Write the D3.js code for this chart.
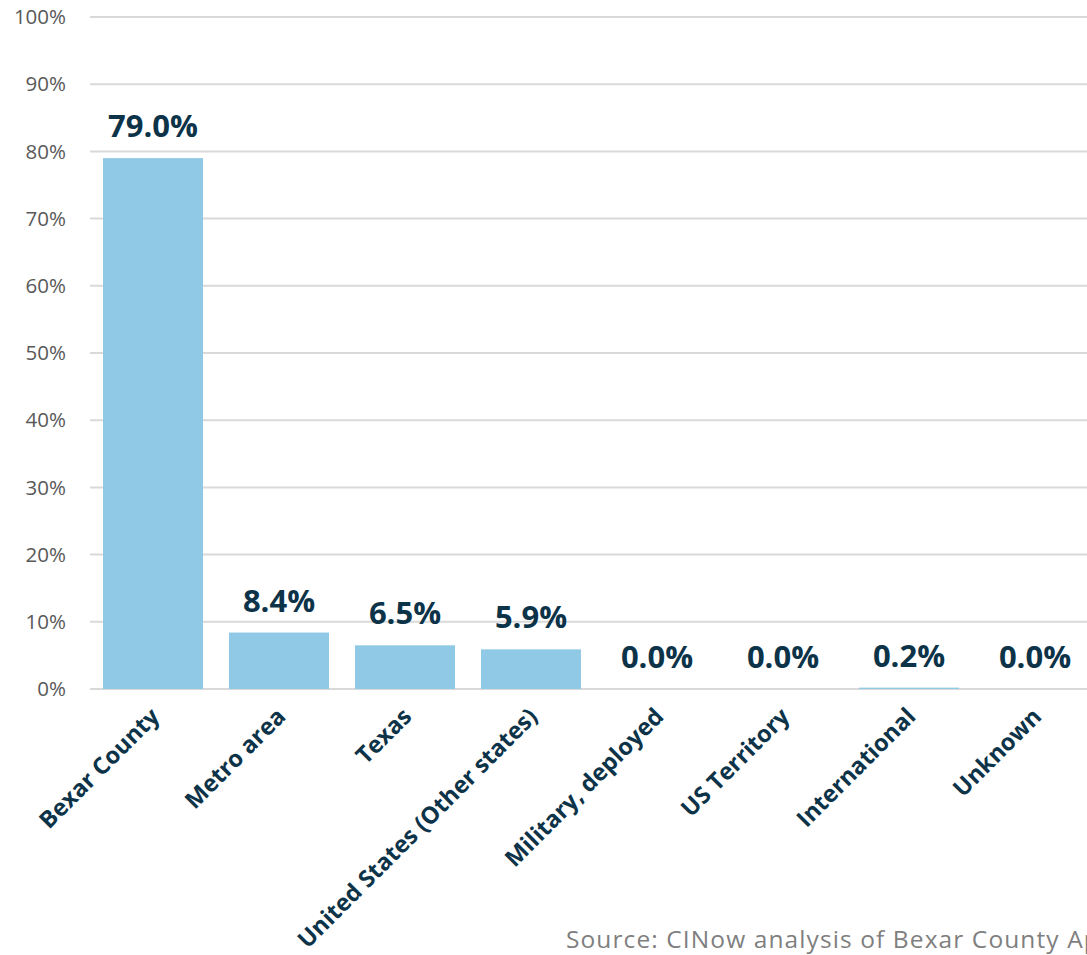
<!DOCTYPE html>
<meta charset="utf-8">
<script src="https://d3js.org/d3.v7.min.js"></script>
<style>
  body { margin: 0; background: #fff; }
  svg { display: block; }
</style>
<body>
<svg width="1087" height="955"></svg>
<script>
    var categories = ['Bexar County', 'Metro area', 'Texas', 'United States (Other states)',
                      'Military, deployed', 'US Territory', 'International', 'Unknown'];
    var values     = [79.0, 8.4, 6.5, 5.9, 0.0, 0.0, 0.2, 0.0];
    var yTicks     = [0, 10, 20, 30, 40, 50, 60, 70, 80, 90, 100];
    var source     = 'Source: CINow analysis of Bexar County Appraisal District data';

    var svg = d3.select('svg');
    var mLeft = 90, mRight = 1098, mTop = 17, mBottom = 689;

    var x = d3.scaleBand().domain(categories).range([mLeft, mRight]).paddingInner(26/126).paddingOuter(13/126);
    var y = d3.scaleLinear().domain([0, 100]).range([mBottom, mTop]);

    // gridlines
    svg.append('g').selectAll('line').data(yTicks).enter().append('line')
        .attr('x1', mLeft).attr('x2', 1087)
        .attr('y1', function(d){ return y(d); }).attr('y2', function(d){ return y(d); })
        .attr('stroke', '#d9d9d9').attr('stroke-width', 2);

    // y axis labels
    svg.append('g').selectAll('text').data(yTicks).enter().append('text')
        .attr('x', 66).attr('y', function(d){ return y(d); })
        .attr('dy', '0.35em')
        .attr('text-anchor', 'end')
        .attr('font-family', 'Open Sans, sans-serif')
        .attr('font-size', 20.5)
        .attr('fill', '#595959')
        .text(function(d){ return d + '%'; });

    // bars
    svg.append('g').selectAll('rect').data(values).enter().append('rect')
        .attr('x', function(d, i){ return x(categories[i]); })
        .attr('width', x.bandwidth())
        .attr('y', function(d){ return y(d); })
        .attr('height', function(d){ return mBottom - y(d); })
        .attr('fill', '#8fc9e6');

    // value labels
    svg.append('g').selectAll('text').data(values).enter().append('text')
        .attr('x', function(d, i){ return x(categories[i]) + x.bandwidth()/2; })
        .attr('y', function(d){ return y(d) - 21; })
        .attr('text-anchor', 'middle')
        .attr('font-family', 'Open Sans, sans-serif')
        .attr('font-weight', 'bold')
        .attr('font-size', 31)
        .attr('fill', '#0d3349')
        .text(function(d){ return d.toFixed(1) + '%'; });

    // category labels
    svg.append('g').selectAll('text').data(categories).enter().append('text')
        .attr('transform', function(d){
            return 'translate(' + (x(d) + x.bandwidth()/2 + 8) + ',' + 718 + ') rotate(-45)';
        })
        .attr('text-anchor', 'end')
        .attr('font-family', 'Open Sans, sans-serif')
        .attr('font-weight', 'bold')
        .attr('font-size', 23.5)
        .attr('fill', '#0d3349')
        .text(function(d){ return d; });

    // source (runs off the right edge, as in the original)
    svg.append('text')
        .attr('x', 566).attr('y', 948)
        .attr('font-family', 'Open Sans, sans-serif')
        .attr('font-size', 24.5)
        .attr('letter-spacing', 1.1)
        .attr('fill', '#7f7f7f')
        .text(source);
</script>
</body>
